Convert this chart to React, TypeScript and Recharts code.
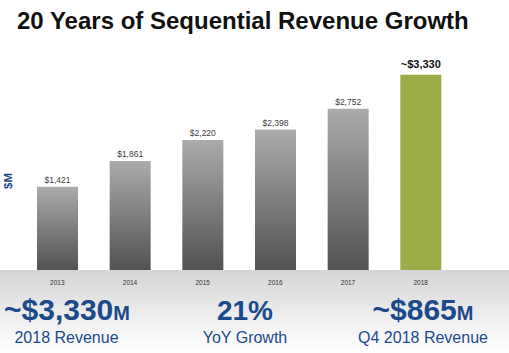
import { Bar, BarChart, Cell, LabelList, XAxis, YAxis } from 'recharts';

const years = ['2013', '2014', '2015', '2016', '2017', '2018'];
const revenue = [1421, 1861, 2220, 2398, 2752, 3330];
const estimated = [false, false, false, false, false, true];

const data = years.map((year, i) => ({ year, revenue: revenue[i], estimated: estimated[i] }));

const blue = '#1b4a8c';
const font = '"Liberation Sans", Arial, sans-serif';

function ValueLabel(props: any) {
	const { x, y, width, value, index } = props;
	const cx = x + width / 2;
	if (estimated[index]) {
		return (
			<text x={cx} y={y - 7} textAnchor="middle" fontSize={11} fontWeight="bold" fill="#111" fontFamily={font}>
				~${value.toLocaleString('en-US')}
			</text>
		);
	}
	return (
		<text x={cx} y={y - 3.5} textAnchor="middle" fontSize={8.5} fill="#404040" fontFamily={font}>
			${value.toLocaleString('en-US')}
		</text>
	);
}

export default function App() {
	return (
		<div style={{ position: 'absolute', left: 0, top: 0, width: 509, height: 353, background: '#fff', fontFamily: font }}>
			<div
				style={{
					position: 'absolute',
					left: 0,
					top: 270,
					width: 509,
					height: 83,
					background: 'linear-gradient(#d4d4d4, #f4f4f4 70%, #ffffff)',
				}}
			/>
			<div style={{ position: 'absolute', left: 0, top: 0 }}>
				<BarChart width={509} height={353} data={data} margin={{ top: 59, right: 52, left: 21, bottom: 63 }}>
					<defs>
						<linearGradient id="grayBar" x1="0" y1="0" x2="0" y2="1">
							<stop offset="0%" stopColor="#ababab" />
							<stop offset="100%" stopColor="#525252" />
						</linearGradient>
					</defs>
					<XAxis
						dataKey="year"
						height={20}
						axisLine={false}
						tickLine={false}
						tickMargin={4}
						tick={{ fontSize: 6.5, fill: '#333', fontFamily: font }}
					/>
					<YAxis hide domain={[0, 3600]} />
					<Bar dataKey="revenue" barSize={41} isAnimationActive={false}>
						{data.map((d) => (
							<Cell key={d.year} fill={d.estimated ? '#9bad48' : 'url(#grayBar)'} />
						))}
						<LabelList dataKey="revenue" content={ValueLabel} />
					</Bar>
				</BarChart>
			</div>
			<svg width={509} height={353} style={{ position: 'absolute', left: 0, top: 0, pointerEvents: 'none' }}>
				<text x={17} y={29} fontSize={24} fontWeight="bold" fill="#111" fontFamily={font}>
					20 Years of Sequential Revenue Growth
				</text>
				<text
					transform="translate(12, 181) rotate(-90)"
					textAnchor="middle"
					fontSize={11.5}
					fontWeight="bold"
					fill={blue}
					fontFamily={font}
				>
					$M
				</text>
				<text x={67} y={320} textAnchor="middle" fontWeight="bold" fill={blue} fontFamily={font}>
					<tspan fontSize={30}>~$3,330</tspan>
					<tspan fontSize={20}>M</tspan>
				</text>
				<text x={66.5} y={343} textAnchor="middle" fontSize={16} fill={blue} fontFamily={font}>
					2018 Revenue
				</text>
				<text x={245} y={320} textAnchor="middle" fontWeight="bold" fill={blue} fontFamily={font} fontSize={28}>
					21%
				</text>
				<text x={245} y={343} textAnchor="middle" fontSize={16} fill={blue} fontFamily={font}>
					YoY Growth
				</text>
				<text x={423} y={320} textAnchor="middle" fontWeight="bold" fill={blue} fontFamily={font}>
					<tspan fontSize={30}>~$865</tspan>
					<tspan fontSize={20}>M</tspan>
				</text>
				<text x={423} y={343} textAnchor="middle" fontSize={16} fill={blue} fontFamily={font}>
					Q4 2018 Revenue
				</text>
			</svg>
		</div>
	);
}
